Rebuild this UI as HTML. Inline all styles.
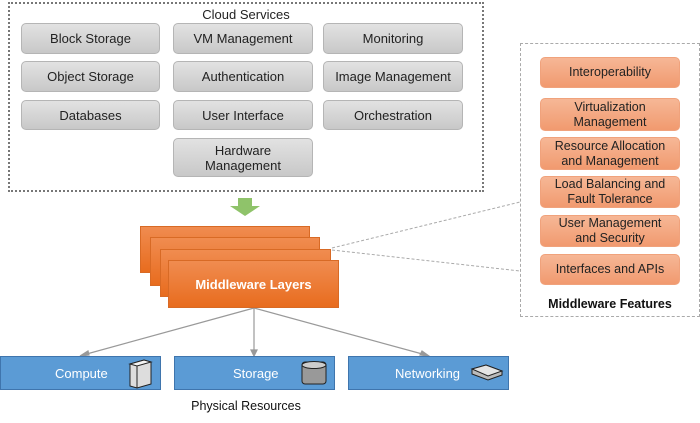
<!DOCTYPE html>
<html><head><style>
body{margin:0;width:700px;height:423px;background:#fff;position:relative;font-family:"Liberation Sans",sans-serif;overflow:hidden}
.a{position:absolute;box-sizing:border-box;display:flex;align-items:center;justify-content:center;text-align:center}
.g{background:linear-gradient(#e2e2e2,#c8c8c8);border:1px solid #b5b5b5;border-radius:5px;font-size:13px;color:#222;line-height:15px}
.o{background:linear-gradient(#f6b796,#f19a6f);border:1px solid #f0a27c;border-radius:5px;font-size:12.5px;color:#222;line-height:15px;left:540px;width:140px}
.m{background:linear-gradient(#f08c50,#e86c1e);border:1px solid #d86a25}
.b{background:#5b9bd5;border:1px solid #3f75ad;color:#fff;font-size:13px;top:356px;height:34px;width:161px;justify-content:flex-start}
</style></head><body>
<div class="a" style="left:8px;top:2px;width:476px;height:190px;border:2px dotted #777"></div>
<div style="position:absolute;left:8px;top:7px;width:476px;text-align:center;font-size:13px;color:#222">Cloud Services</div>
<div class="a g" style="left:21px;top:23px;width:139px;height:31px">Block Storage</div>
<div class="a g" style="left:173px;top:23px;width:140px;height:31px">VM Management</div>
<div class="a g" style="left:323px;top:23px;width:140px;height:31px">Monitoring</div>
<div class="a g" style="left:21px;top:61px;width:139px;height:31px">Object Storage</div>
<div class="a g" style="left:173px;top:61px;width:140px;height:31px">Authentication</div>
<div class="a g" style="left:323px;top:61px;width:140px;height:31px">Image Management</div>
<div class="a g" style="left:21px;top:100px;width:139px;height:30px">Databases</div>
<div class="a g" style="left:173px;top:100px;width:140px;height:30px">User Interface</div>
<div class="a g" style="left:323px;top:100px;width:140px;height:30px">Orchestration</div>
<div class="a g" style="left:173px;top:138px;width:140px;height:39px">Hardware<br>Management</div>
<div class="a" style="left:520px;top:43px;width:180px;height:274px;border:1px dashed #aaa"></div>
<div class="a o" style="top:57px;height:31px">Interoperability</div>
<div class="a o" style="top:98px;height:33px">Virtualization<br>Management</div>
<div class="a o" style="top:137px;height:33px">Resource Allocation<br>and Management</div>
<div class="a o" style="top:176px;height:32px">Load Balancing and<br>Fault Tolerance</div>
<div class="a o" style="top:215px;height:32px">User Management<br>and Security</div>
<div class="a o" style="top:254px;height:31px">Interfaces and APIs</div>
<div style="position:absolute;left:520px;top:297px;width:180px;text-align:center;font-size:12.5px;font-weight:bold;color:#111">Middleware Features</div>
<svg style="position:absolute;left:0;top:0" width="700" height="423">
<polygon points="238,198 252,198 252,206 260,206 245,216 230,206 238,206" fill="#8fc36a"/>
<line x1="332" y1="248" x2="520" y2="202" stroke="#aaa" stroke-dasharray="3,2"/>
<line x1="332" y1="250" x2="520" y2="271" stroke="#aaa" stroke-dasharray="3,2"/>
<g stroke="#999" stroke-width="1.2" fill="#999">
<line x1="254" y1="308" x2="83" y2="355"/><polygon points="80,356 88,351 89,355"/>
<line x1="254" y1="308" x2="254" y2="354"/><polygon points="251,350 257,350 254,356"/>
<line x1="254" y1="308" x2="426" y2="355"/><polygon points="429,356 420,355 422,351"/>
</g>
</svg>
<div class="a m" style="left:140px;top:226px;width:170px;height:47px"></div>
<div class="a m" style="left:150px;top:237px;width:170px;height:49px"></div>
<div class="a m" style="left:160px;top:249px;width:171px;height:48px"></div>
<div class="a m" style="left:168px;top:260px;width:171px;height:48px;color:#fff;font-weight:bold;font-size:13px">Middleware Layers</div>
<div class="a b" style="left:0px;padding-left:54px">Compute</div>
<div class="a b" style="left:174px;padding-left:58px">Storage</div>
<div class="a b" style="left:348px;padding-left:46px">Networking</div>
<svg style="position:absolute;left:0;top:356px" width="520" height="34">
<g stroke="#222" stroke-width="1"><polygon points="130,8 144,4 151,6 151,28 137,32 130,30" fill="#ddd"/><polygon points="130,8 144,4 151,6 137,10" fill="#f4f4f4"/><line x1="137" y1="10" x2="137" y2="32"/></g>
<g stroke="#222"><rect x="302" y="6" width="24" height="22" rx="3" fill="#999"/><ellipse cx="314" cy="9" rx="12" ry="3.5" fill="#ccc"/></g>
<g stroke="#222"><polygon points="472,13 486,9 502,15 502,19 488,24 472,18" fill="#bbb"/><polygon points="472,13 486,9 502,15 488,20" fill="#e4e4e4"/></g>
</svg>
<div style="position:absolute;left:150px;top:399px;width:192px;text-align:center;font-size:12.5px;color:#111">Physical Resources</div>
</body></html>
